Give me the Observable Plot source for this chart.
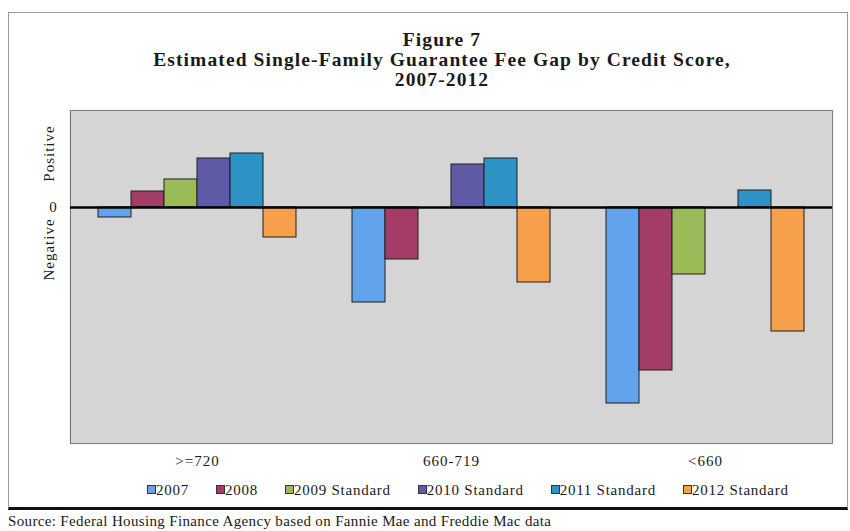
<!DOCTYPE html>
<html>
<head>
<meta charset="utf-8">
<script src="https://cdn.jsdelivr.net/npm/d3@7"></script>
<script src="https://cdn.jsdelivr.net/npm/@observablehq/plot@0.6"></script>
<style>
  html, body { margin: 0; padding: 0; background: #ffffff; }
  body { width: 850px; height: 531px; position: relative; overflow: hidden; font-family: "Liberation Serif", "DejaVu Serif", serif; color: #1a1a1a; }
  #box { position: absolute; left: 8px; top: 12px; width: 838px; height: 494px; border: 1px solid #9a9a9a; border-bottom: 3px solid #111; }
  #title { position: absolute; left: 0; width: 884px; top: 30px; text-align: center; font-weight: bold; font-size: 19.5px; letter-spacing: 1.1px; line-height: 20px; }
  #chart { position: absolute; left: 0; top: 100px; }
  #legend { position: absolute; left: 140px; top: 481px; font-size: 15px; letter-spacing: 0.75px; line-height: 18px; white-space: nowrap; }
  #legend .item { display: inline-block; margin: 0 20px 0 7px; }
  #legend .sw { display: inline-block; width: 7px; height: 7px; border: 1px solid #333; margin-right: 0px; vertical-align: 1px; }
  #source { position: absolute; left: 8px; top: 512px; font-size: 15px; letter-spacing: 0.35px; line-height: 18px; white-space: nowrap; }
</style>
</head>
<body>
<div id="box"></div>
<div id="title">Figure 7<br>Estimated Single-Family Guarantee Fee Gap by Credit Score,<br>2007-2012</div>
<div id="chart"></div>
<div id="legend"></div>
<div id="source">Source: Federal Housing Finance Agency based on Fannie Mae and Freddie Mac data</div>
<script>
// Credit-score groups (categories)
const groups = [">=720", "660-719", "<660"];
// Series
const series = ["2007", "2008", "2009 Standard", "2010 Standard", "2011 Standard", "2012 Standard"];
const colors = ["#62a4ec", "#a33c67", "#9bbb59", "#5f5aa6", "#2d92c4", "#f7a04b"];
// Estimated values (relative units; positive = above zero line), one array per series, by group
const v2007 = [-1.0, -9.5, -19.6];
const v2008 = [1.6, -5.2, -16.3];
const v2009 = [2.8, 0, -6.7];
const v2010 = [4.9, 4.3, 0];
const v2011 = [5.4, 4.9, 1.7];
const v2012 = [-3.0, -7.5, -12.4];
const yDomain = [-23.6, 9.7];
// Axis side labels
const sideLabels = ["Positive", "0", "Negative"];
const sideY = [5.4, 0, -4.2];

const allVals = [v2007, v2008, v2009, v2010, v2011, v2012];
const data = [];
series.forEach((s, i) => groups.forEach((g, j) => data.push({group: g, series: s, value: allVals[i][j]})));
const labels = sideLabels.map((t, i) => ({group: groups[0], text: t, y: sideY[i], rotate: t === "0" ? 0 : -90}));

const plot = Plot.plot({
  width: 850,
  height: 380,
  marginLeft: 69,
  marginRight: 18,
  marginTop: 10,
  marginBottom: 37,
  style: {fontFamily: "Liberation Serif, serif", fontSize: "15px", letterSpacing: "1px", color: "#1a1a1a", background: "transparent"},
  fx: {domain: groups, padding: 0, axis: "bottom", label: null, tickSize: 0, tickPadding: 12},
  x: {domain: series, paddingInner: 0, paddingOuter: 0.75, axis: null},
  y: {domain: yDomain, axis: null},
  color: {domain: series, range: colors},
  marks: [
    Plot.frame({fill: "#d5d5d5", stroke: "#d5d5d5", strokeWidth: 1.5}),
    Plot.ruleY([yDomain[1], yDomain[0]], {stroke: "#808080", strokeWidth: 1}),
    Plot.frame({anchor: "left", facetAnchor: "left", stroke: "#707070"}),
    Plot.frame({anchor: "right", facetAnchor: "right", stroke: "#808080"}),
    Plot.barY(data.filter(d => d.value !== 0), {fx: "group", x: "series", y: "value", fill: "series", stroke: "#1f1f1f", strokeWidth: 1, inset: 0}),
    Plot.ruleY([0], {stroke: "#000", strokeWidth: 2.5}),
    Plot.text(labels.filter(d => d.rotate === 0), {fx: "group", y: "y", text: "text", frameAnchor: "left", dx: -17, textAnchor: "middle", fontSize: 15}),
    Plot.text(labels.filter(d => d.rotate !== 0), {fx: "group", y: "y", text: "text", frameAnchor: "left", dx: -21, rotate: -90, textAnchor: "middle", fontSize: 15})
  ]
});
document.getElementById("chart").appendChild(plot);

const legend = document.getElementById("legend");
series.forEach((s, i) => {
  const item = document.createElement("span");
  item.className = "item";
  const sw = document.createElement("span");
  sw.className = "sw";
  sw.style.background = colors[i];
  item.appendChild(sw);
  item.appendChild(document.createTextNode(s));
  legend.appendChild(item);
});
</script>
</body>
</html>
